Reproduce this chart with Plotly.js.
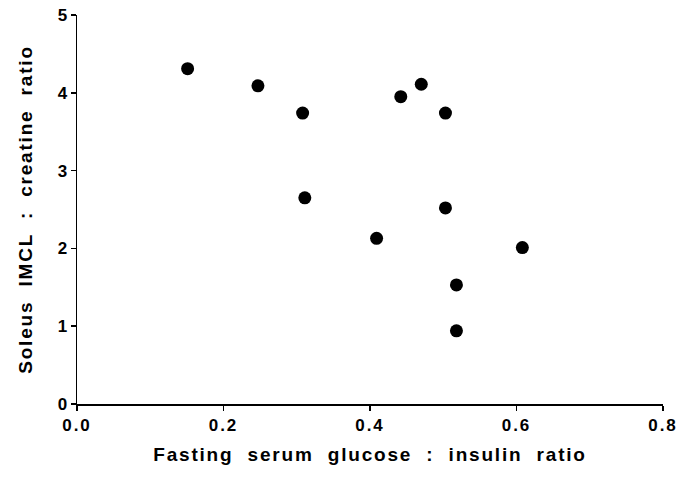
<!DOCTYPE html>
<html>
<head>
<meta charset="utf-8">
<script src="https://cdn.plot.ly/plotly-3.0.1.min.js"></script>
<style>
html,body{margin:0;padding:0;background:#fff;}
#chart{width:680px;height:490px;}
.xtitle,.ytitle{letter-spacing:1.8px;}
.xtick text{letter-spacing:2px;}
</style>
</head>
<body>
<div id="chart"></div>
<script>
var glucoseInsulinRatio = [0.151, 0.247, 0.308, 0.311, 0.409, 0.442, 0.470, 0.503, 0.503, 0.608, 0.518, 0.518];
var imclCreatineRatio   = [4.31, 4.09, 3.74, 2.65, 2.13, 3.95, 4.11, 3.74, 2.52, 2.01, 1.53, 0.94];
var xTickVals = [0, 0.2, 0.4, 0.6, 0.8];
var xTickText = ['0.0', '0.2', '0.4', '0.6', '0.8'];
var yTickVals = [0, 1, 2, 3, 4, 5];

var font = 'Liberation Sans, Arial, Helvetica, sans-serif';

var trace = {
  x: glucoseInsulinRatio,
  y: imclCreatineRatio,
  type: 'scatter',
  mode: 'markers',
  marker: {color: '#000', size: 13, line: {width: 0}},
  hoverinfo: 'x+y'
};

var layout = {
  width: 680, height: 490,
  margin: {l: 77, r: 17, t: 15, b: 86},
  paper_bgcolor: '#fff', plot_bgcolor: '#fff',
  showlegend: false,
  font: {family: font, color: '#000'},
  xaxis: {
    range: [0, 0.8], tickvals: xTickVals, ticktext: xTickText,
    showgrid: false, zeroline: false, showline: true, linecolor: '#000', linewidth: 1.5,
    ticks: 'outside', ticklen: 5, tickwidth: 1.5, tickcolor: '#000',
    tickfont: {family: font, size: 17, weight: 'bold'},
    title: {text: 'Fasting  serum  glucose  :  insulin  ratio', font: {family: font, size: 19, weight: 'bold'}, standoff: 14}
  },
  yaxis: {
    range: [0, 5], tickvals: yTickVals,
    showgrid: false, zeroline: false, showline: true, linecolor: '#000', linewidth: 1.5,
    ticks: 'outside', ticklen: 5, tickwidth: 1.5, tickcolor: '#000',
    tickfont: {family: font, size: 17, weight: 'bold'},
    title: {text: 'Soleus  IMCL  :  creatine  ratio', font: {family: font, size: 19, weight: 'bold'}, standoff: 20}
  }
};

Plotly.newPlot('chart', [trace], layout, {displayModeBar: false, staticPlot: true});
</script>
</body>
</html>
